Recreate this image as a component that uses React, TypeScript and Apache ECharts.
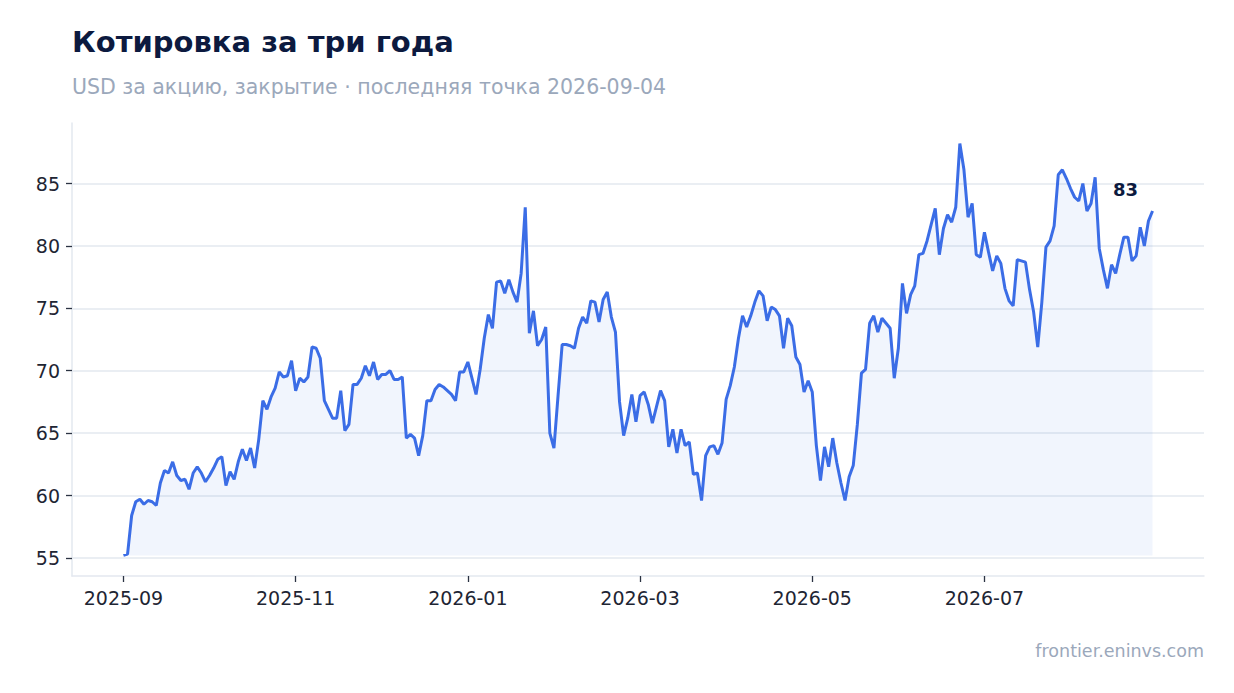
import React, { useEffect, useRef } from "react";
import * as echarts from "echarts";

// closing prices, one per point, evenly spaced from 2025-09-01 to 2026-09-04
const lastDate = "2026-09-04";

const prices = [
  55.2, 55.3, 58.4, 59.5, 59.7, 59.3, 59.6, 59.5, 59.2, 61.0,
  62.0, 61.8, 62.7, 61.6, 61.2, 61.3, 60.5, 61.8, 62.3, 61.8,
  61.1, 61.6, 62.2, 62.9, 63.1, 60.8, 61.9, 61.3, 62.7, 63.7,
  62.8, 63.8, 62.2, 64.5, 67.6, 66.9, 67.9, 68.6, 69.9, 69.5,
  69.6, 70.8, 68.4, 69.4, 69.1, 69.5, 71.9, 71.8, 71.0, 67.6,
  66.9, 66.2, 66.2, 68.4, 65.2, 65.7, 68.9, 68.9, 69.4, 70.4,
  69.6, 70.7, 69.3, 69.7, 69.7, 70.0, 69.3, 69.3, 69.5, 64.6,
  64.9, 64.6, 63.2, 64.8, 67.6, 67.6, 68.5, 68.9, 68.7, 68.4,
  68.1, 67.6, 69.9, 69.9, 70.7, 69.4, 68.1, 70.1, 72.6, 74.5,
  73.4, 77.1, 77.2, 76.2, 77.3, 76.3, 75.5, 77.8, 83.1, 73.0,
  74.8, 72.0, 72.5, 73.5, 65.0, 63.8, 68.0, 72.1, 72.1, 72.0,
  71.8, 73.4, 74.3, 73.8, 75.6, 75.5, 73.9, 75.7, 76.3, 74.3,
  73.1, 67.5, 64.8, 66.2, 68.1, 65.9, 68.0, 68.3, 67.3, 65.8,
  67.1, 68.4, 67.6, 63.9, 65.3, 63.4, 65.3, 64.0, 64.3, 61.7,
  61.8, 59.6, 63.2, 63.9, 64.0, 63.3, 64.2, 67.7, 68.8, 70.3,
  72.6, 74.4, 73.5, 74.4, 75.5, 76.4, 76.0, 74.0, 75.1, 74.9,
  74.4, 71.8, 74.2, 73.6, 71.1, 70.5, 68.3, 69.2, 68.3, 64.0,
  61.2, 63.9, 62.3, 64.6, 62.6, 61.0, 59.6, 61.5, 62.4, 65.7,
  69.8, 70.1, 73.8, 74.4, 73.1, 74.2, 73.8, 73.4, 69.4, 71.8,
  77.0, 74.6, 76.1, 76.8, 79.3, 79.4, 80.4, 81.7, 83.0, 79.3,
  81.4, 82.5, 81.9, 83.1, 88.2, 86.1, 82.3, 83.4, 79.3, 79.1,
  81.1, 79.5, 78.0, 79.2, 78.6, 76.6, 75.6, 75.2, 78.9, 78.8,
  78.7, 76.5, 74.7, 71.9, 75.5, 79.9, 80.4, 81.6, 85.7, 86.1,
  85.4, 84.6, 83.9, 83.6, 85.0, 82.8, 83.4, 85.5, 79.8, 78.1,
  76.6, 78.5, 77.8, 79.3, 80.7, 80.7, 78.8, 79.2, 81.5, 80.0,
  82.0, 82.8,
];

// x tick labels sit on every 42nd point
const tickIndices = [0, 42, 84, 126, 168, 210];
const tickLabels = ["2025-09", "2025-11", "2026-01", "2026-03", "2026-05", "2026-07"];
const yTicks = [55, 60, 65, 70, 75, 80, 85];

const FONT = "DejaVu Sans";
const LINE = "#3b6de6";

const App: React.FC = () => {
  const chartRef = useRef<HTMLDivElement>(null);

  useEffect(() => {
    document.body.style.margin = "0";
    if (!chartRef.current) return;
    const chart = echarts.init(chartRef.current, undefined, { renderer: "svg" });

    const n = prices.length;
    const lo = Math.min(...prices);
    const last = prices[n - 1];
    const margin5 = (e: { min: number; max: number }) => (e.max - e.min) * 0.05;

    const option = {
      animation: false,
      textStyle: { fontFamily: FONT },
      grid: { left: 72, right: 30, top: 123, bottom: 117, containLabel: false },
      xAxis: {
        type: "value",
        min: (e: { min: number; max: number }) => e.min - margin5(e),
        max: (e: { min: number; max: number }) => e.max + margin5(e),
        axisLine: { show: true, onZero: false, lineStyle: { color: "#e3e8ef", width: 1.5 } },
        axisTick: {
          show: true,
          customValues: tickIndices,
          length: 6,
          lineStyle: { color: "#2b3342", width: 1.3 },
        },
        axisLabel: {
          customValues: tickIndices,
          margin: 12,
          fontFamily: FONT,
          fontSize: 19,
          color: "#1e2533",
          formatter: (val: number) => {
            const k = tickIndices.indexOf(Math.round(val));
            return k >= 0 ? tickLabels[k] : "";
          },
        },
        splitLine: { show: false },
      },
      yAxis: {
        type: "value",
        min: (e: { min: number; max: number }) => e.min - margin5(e),
        max: (e: { min: number; max: number }) => e.max + margin5(e),
        axisLine: { show: true, onZero: false, lineStyle: { color: "#e3e8ef", width: 1.5 } },
        axisTick: {
          show: true,
          customValues: yTicks,
          length: 6,
          lineStyle: { color: "#2b3342", width: 1.3 },
        },
        axisLabel: {
          customValues: yTicks,
          margin: 12,
          fontFamily: FONT,
          fontSize: 19,
          color: "#1e2533",
        },
        splitLine: { show: true, lineStyle: { color: "#e3e8ef", width: 1.5 } },
      },
      series: [
        {
          type: "line",
          data: prices.map((v, i) => [i, v]),
          showSymbol: false,
          symbol: "none",
          lineStyle: { color: LINE, width: 3 },
          itemStyle: { color: LINE },
          areaStyle: { color: "rgba(59,109,230,0.1)", origin: lo },
          z: 3,
          markPoint: {
            symbol: "circle",
            symbolSize: 1,
            itemStyle: { color: "rgba(0,0,0,0)" },
            data: [{ coord: [n - 1, last], value: Math.round(last) }],
            label: {
              show: true,
              position: "inside",
              offset: [-27, -21],
              formatter: (p: any) => String(p.value),
              fontFamily: FONT,
              fontWeight: "bold",
              fontSize: 18,
              color: "#0c1a3f",
            },
          },
        },
      ],
      graphic: [
        {
          type: "text",
          left: 72,
          top: 27,
          style: {
            text: "Котировка за три года",
            font: `bold 29px "${FONT}"`,
            fill: "#0c1a3f",
          },
        },
        {
          type: "text",
          left: 72,
          top: 76,
          style: {
            text: `USD за акцию, закрытие · последняя точка ${lastDate}`,
            font: `20.5px "${FONT}"`,
            fill: "#9ba8bb",
          },
        },
        {
          type: "text",
          right: 30,
          top: 642,
          style: {
            text: "frontier.eninvs.com",
            font: `17.5px "${FONT}"`,
            fill: "#9ba8bb",
          },
        },
      ],
    };

    chart.setOption(option);
    return () => chart.dispose();
  }, []);

  return <div ref={chartRef} style={{ width: 1234, height: 693 }} />;
};

export default App;
